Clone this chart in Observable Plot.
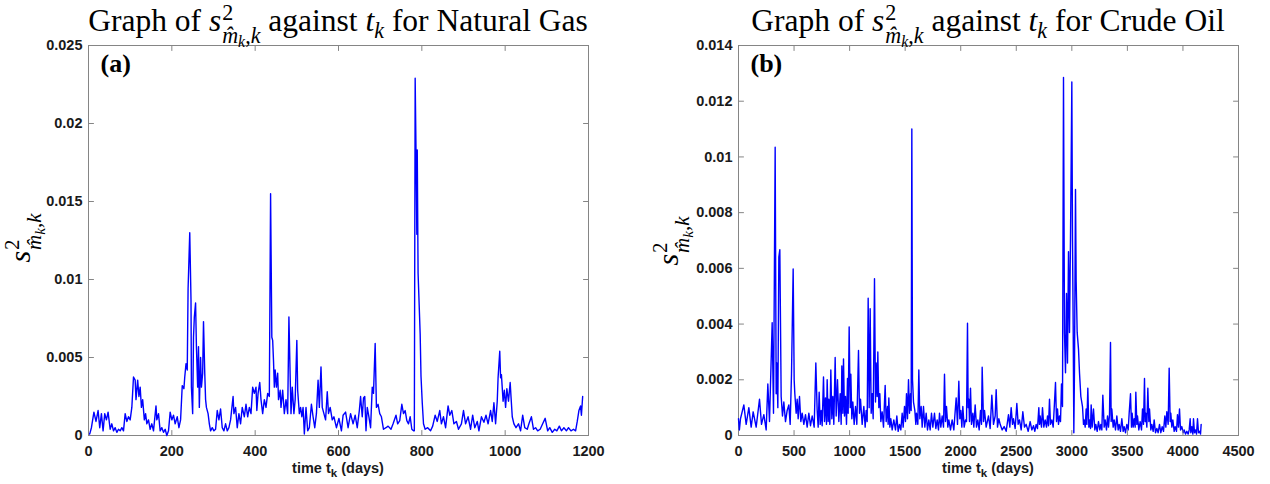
<!DOCTYPE html>
<html>
<head>
<meta charset="utf-8">
<script src="https://cdn.jsdelivr.net/npm/d3@7"></script>
<script src="https://cdn.jsdelivr.net/npm/@observablehq/plot@0.6"></script>
<style>
  body { margin: 0; background: #fff; }
  #fig { position: relative; width: 1270px; height: 484px; overflow: hidden; background: #fff; }
  .plotbox { position: absolute; top: 0; }
  .title { position: absolute; top: 4px; transform: translateX(-50%); font-family: "Liberation Serif", "DejaVu Serif", serif; font-size: 31.5px; line-height: 1; white-space: nowrap; color: #000; }
  .ylab { position: absolute; transform: translate(-50%, -50%) rotate(-90deg); font-family: "Liberation Serif", "DejaVu Serif", serif; font-size: 30px; line-height: 1; white-space: nowrap; color: #000; }
  .xlab { position: absolute; top: 461px; transform: translateX(-50%); font-family: "Liberation Sans", Arial, sans-serif; font-weight: bold; font-size: 14.5px; line-height: 1; white-space: nowrap; color: #1a1a1a; }
  .xlab .sub { font-size: 0.8em; vertical-align: -0.35em; }
  .stk { display: inline-flex; flex-direction: column; font-size: 0.7em; line-height: 0.8; row-gap: 5px; vertical-align: 0.5em; margin-left: 1px; }
  .stk > span { display: block; }
  .sb2 { font-size: 0.72em; vertical-align: -0.25em; }
  .sb1 { font-size: 0.7em; vertical-align: -0.3em; }
</style>
</head>
<body>
<div id="fig"></div>
<script>
// ---------- Data (values in units of 1e-3) ----------
const gasDays = [1,3,7,13,18,23,27,31,35,39,43,47,52,56,60,64,68,72,76,80,84,88,92,96,100,104,108,112,114,118,121,124,127,130,134,137,140,144,148,152,156,162,164,168,172,176,180,184,188,192,196,200,204,208,213,217,221,225,229,231,234,237,239,243,246,247,250,252,254,257,259,262,264,266,269,271,274,276,279,281,283,287,290,293,297,301,305,309,313,317,321,325,329,333,337,341,347,349,353,357,361,365,369,374,378,382,386,390,394,398,402,404,407,411,414,418,422,426,430,434,437,440,442,444,446,448,451,454,456,460,462,466,470,474,478,481,484,486,489,493,496,500,502,506,509,512,515,518,522,526,530,535,539,543,547,551,554,558,561,565,569,573,576,580,585,589,595,601,607,611,617,623,629,635,640,645,650,653,657,660,663,666,669,673,677,681,684,688,691,695,699,703,708,714,719,726,731,738,742,747,752,756,760,764,768,772,776,780,782,784,786,788,789,791,796,798,801,804,808,814,821,826,832,837,843,847,852,857,863,867,872,877,883,888,895,900,905,911,917,922,927,933,937,943,949,954,959,965,969,973,977,981,983,987,989,991,995,998,1001,1004,1008,1012,1014,1017,1021,1026,1032,1037,1042,1047,1053,1057,1063,1068,1073,1078,1084,1090,1096,1102,1107,1113,1119,1124,1130,1135,1141,1147,1152,1158,1164,1169,1173,1177,1181,1183,1186];
const gasVar = [0.1,0.1,0.5,1.5,0.9,1.6,0.5,1.4,0.3,1.4,1.0,1.5,0.4,0.75,0.3,0.5,0.2,0.4,0.3,0.5,0.3,1.4,0.9,1.2,1.0,1.8,3.75,3.55,2.3,3.55,2.5,3.1,1.8,2.3,1.0,1.4,0.75,1.0,0.4,0.75,0.3,1.9,1.0,1.4,0.3,0.5,0.2,0.4,0.0,0.3,1.5,1.0,1.3,0.75,1.2,0.5,1.0,3.2,3.0,3.75,4.6,4.2,9.4,13.0,8.7,3.1,1.4,6.3,7.6,8.5,5.7,3.1,5.7,1.8,5.0,3.1,4.0,7.3,4.0,2.3,1.8,1.4,0.75,0.3,0.5,0.3,0.4,1.6,1.0,1.7,0.5,0.3,0.75,0.3,0.5,1.0,2.5,1.4,1.8,0.5,1.4,0.75,1.8,1.2,2.0,1.2,1.8,1.4,3.1,2.7,3.1,1.6,2.7,3.4,2.3,1.4,2.3,1.8,2.7,2.5,15.5,6.3,6.1,4.8,3.1,4.2,3.1,4.0,2.3,2.9,1.8,2.9,1.4,2.3,1.4,7.6,3.8,1.4,3.1,1.4,2.3,6.1,2.9,1.4,1.8,1.2,1.8,0.1,1.8,0.3,0.5,2.0,1.2,0.5,1.4,3.55,1.8,4.4,1.8,1.4,1.0,2.8,1.4,1.8,1.0,1.2,0.5,1.1,0.3,1.3,1.5,0.5,1.4,0.75,1.3,0.5,1.6,2.5,1.2,2.4,2.5,0.3,1.8,1.2,0.5,3.1,2.7,5.9,1.8,2.0,1.4,1.2,0.4,0.5,0.6,0.4,0.75,1.3,0.75,0.95,2.0,1.4,1.6,0.95,0.75,1.2,0.4,0.3,0.3,22.9,18.3,12.9,18.3,10.4,6.5,3.8,2.1,0.75,0.4,0.5,0.3,0.6,1.3,0.9,1.6,0.75,1.2,0.5,1.9,1.3,1.6,0.75,0.9,0.4,0.75,1.6,0.75,1.2,0.4,1.3,0.5,0.9,0.3,1.2,0.85,1.3,0.75,1.6,0.9,2.1,0.75,2.2,3.7,5.4,3.7,3.9,2.2,2.9,1.8,3.0,2.2,3.4,2.5,1.2,0.75,0.5,0.75,0.3,1.3,0.5,0.4,0.75,1.2,0.4,0.5,0.3,0.4,0.75,1.1,0.3,0.5,0.2,0.4,0.3,0.6,0.3,0.5,0.3,0.5,0.3,0.4,0.3,0.9,1.6,1.9,1.3,2.5];

const oilDays = [0,8,18,48,69,93,114,132,159,189,207,228,249,264,279,303,315,330,339,345,354,363,372,384,396,408,423,438,453,465,477,492,501,507,519,528,537,549,561,573,588,603,618,633,648,663,681,696,708,717,726,735,744,753,765,774,783,792,798,807,813,822,831,840,849,858,870,879,891,903,915,924,930,939,945,954,963,972,981,987,996,1005,1011,1020,1029,1041,1053,1065,1080,1089,1098,1113,1128,1140,1149,1158,1167,1176,1185,1194,1203,1212,1224,1233,1239,1248,1254,1263,1272,1281,1293,1305,1320,1329,1341,1347,1353,1362,1371,1383,1398,1413,1425,1437,1449,1461,1473,1482,1494,1503,1512,1521,1530,1539,1548,1554,1560,1566,1575,1587,1596,1602,1614,1623,1632,1644,1653,1665,1677,1689,1701,1713,1725,1737,1749,1764,1776,1788,1800,1809,1821,1833,1845,1854,1863,1872,1884,1893,1908,1923,1938,1947,1959,1971,1983,1992,2001,2010,2019,2031,2043,2052,2061,2067,2073,2079,2088,2097,2109,2118,2130,2142,2154,2166,2178,2187,2193,2205,2214,2229,2250,2265,2280,2295,2310,2319,2331,2343,2355,2373,2391,2409,2430,2442,2454,2466,2475,2490,2505,2517,2529,2544,2559,2574,2589,2607,2625,2640,2655,2667,2679,2691,2703,2709,2715,2727,2736,2748,2760,2772,2781,2790,2799,2808,2820,2832,2841,2853,2862,2871,2880,2889,2898,2907,2916,2925,2934,2943,2952,2961,2970,2979,2988,2994,3000,3006,3012,3018,3024,3033,3039,3048,3060,3069,3081,3096,3105,3111,3120,3129,3135,3144,3153,3159,3168,3174,3183,3195,3207,3216,3228,3240,3252,3261,3270,3279,3291,3300,3312,3321,3330,3339,3348,3354,3360,3372,3381,3393,3405,3417,3426,3438,3450,3462,3471,3483,3495,3507,3516,3528,3537,3543,3552,3561,3570,3576,3585,3591,3603,3615,3627,3636,3645,3654,3660,3666,3675,3684,3693,3699,3711,3720,3732,3741,3753,3765,3777,3789,3801,3813,3825,3837,3846,3855,3867,3876,3885,3891,3900,3909,3921,3930,3942,3951,3960,3969,3978,3990,4002,4011,4023,4035,4047,4056,4065,4071,4080,4089,4095,4104,4113,4122,4131,4140,4149,4158,4164];
const oilVar = [0.6,0.2,0.6,1.1,0.4,1.0,0.3,0.85,0.3,1.3,0.4,0.75,0.2,1.85,0.5,4.05,0.8,10.35,1.5,2.6,1.0,6.4,6.67,1.4,0.7,1.2,0.5,0.9,1.1,0.4,2.2,5.98,2.0,1.5,0.8,1.3,0.6,1.4,0.5,0.8,0.4,0.75,0.3,0.8,0.35,0.7,0.3,2.6,0.9,0.3,1.55,0.4,0.9,0.35,2.1,0.5,1.35,0.4,2.0,0.5,1.3,0.4,2.35,0.6,1.4,0.4,2.8,0.7,2.0,0.5,1.5,0.4,2.5,0.8,2.75,0.7,1.4,0.4,2.05,0.8,3.9,1.0,2.2,0.6,1.2,0.4,1.04,0.4,3.05,0.8,1.3,0.4,1.04,0.3,0.9,0.5,4.93,1.0,4.55,0.8,1.5,0.6,5.63,1.2,2.6,1.4,3.0,1.0,1.5,0.5,0.85,0.3,1.8,0.5,1.04,0.4,1.35,0.3,0.6,0.2,0.56,0.2,0.7,0.15,0.4,0.2,0.8,0.3,1.04,0.5,1.5,0.6,2.0,0.8,1.5,0.9,11.0,2.0,1.2,0.9,0.4,0.8,0.4,2.35,0.6,1.04,0.3,1.04,0.3,0.8,0.2,0.56,0.2,0.8,0.3,0.8,0.25,0.56,0.2,0.8,0.3,0.7,0.3,2.2,0.5,1.04,0.3,0.56,0.2,0.56,0.2,0.7,1.35,0.4,1.95,0.6,0.9,0.3,1.04,0.3,0.56,0.5,4.03,1.0,1.3,0.5,1.7,0.4,0.8,0.3,1.1,0.3,0.56,0.2,0.9,0.4,2.45,0.5,0.9,0.3,0.7,0.25,1.45,0.4,0.7,1.64,0.3,0.6,0.4,0.2,0.32,0.15,0.75,0.3,1.0,0.4,0.6,0.25,1.15,0.4,0.56,0.2,0.85,0.3,0.4,0.15,0.5,0.2,0.35,0.15,0.4,0.25,1.0,0.4,0.7,0.3,1.0,0.3,0.56,0.3,0.7,0.35,1.3,0.4,0.56,0.3,0.95,1.9,0.5,0.95,0.4,0.7,0.5,1.85,1.04,12.85,3.67,2.25,5.1,2.6,6.6,3.7,7.1,9.79,12.69,7.0,4.0,0.1,2.45,8.83,5.53,3.7,3.1,2.25,1.4,1.04,0.4,0.56,0.3,0.95,0.4,1.7,0.3,0.56,0.25,1.1,0.3,0.95,0.2,0.4,0.15,0.5,0.2,0.4,0.2,1.45,0.3,0.56,0.2,0.7,0.3,0.75,3.34,0.5,0.95,0.3,0.56,0.2,0.7,0.2,0.4,0.15,0.6,0.15,0.32,0.1,0.4,0.2,0.8,1.5,0.3,0.8,0.3,0.6,0.3,1.55,0.4,0.7,0.2,0.5,0.2,0.95,0.4,2.05,0.5,0.8,0.3,1.7,0.5,0.95,0.2,0.4,0.15,0.56,0.1,0.25,0.1,0.4,0.1,0.32,0.15,0.7,0.3,0.85,0.4,2.42,0.5,0.8,0.3,0.56,0.15,0.32,0.15,0.75,0.3,0.95,0.2,0.32,0.1,0.2,0.05,0.15,0.05,0.2,0.6,0.1,0.32,0.05,0.6,0.1,0.2,0.05,0.6,0.1,0.15,0.05,0.4];

const gasXTicks = [0, 200, 400, 600, 800, 1000, 1200];
const gasYTicks = [0, 0.005, 0.01, 0.015, 0.02, 0.025];
const oilXTicks = [0, 500, 1000, 1500, 2000, 2500, 3000, 3500, 4000, 4500];
const oilYTicks = [0, 0.002, 0.004, 0.006, 0.008, 0.01, 0.012, 0.014];
const VALUE_UNIT = 1e-3;

// ---------- Drawing ----------
const frameColor = "#858585";
const tickShape = { draw(context, l) { context.moveTo(0, 0); context.lineTo(0, -l); } };

function makePanel({days, vals, xTicks, yTicks, panelLabel, marginLeft, marginRight}) {
  const data = days.map((d, i) => ({t: d, v: vals[i] * VALUE_UNIT}));
  const xDom = [xTicks[0], xTicks[xTicks.length - 1]];
  const yDom = [yTicks[0], yTicks[yTicks.length - 1]];
  const tk = {shape: tickShape, length: 5, anchor: "start", stroke: frameColor, strokeWidth: 1};
  return Plot.plot({
    width: 635,
    height: 484,
    marginTop: 45,
    marginBottom: 49,
    marginLeft,
    marginRight,
    x: {domain: xDom, label: null},
    y: {domain: yDom, label: null},
    style: {fontFamily: '"Liberation Sans", Arial, sans-serif', fontSize: "14.5px", fontWeight: "bold", color: "#1a1a1a", background: "transparent", overflow: "visible"},
    marks: [
      Plot.frame({stroke: frameColor, strokeWidth: 1}),
      Plot.line(data, {x: "t", y: "v", stroke: "#0000ff", strokeWidth: 1.4}),
      Plot.axisX(xTicks, {anchor: "bottom", tickSize: 0, tickPadding: 10, label: null, tickFormat: d => String(d)}),
      Plot.axisY(yTicks, {anchor: "left", tickSize: 0, tickPadding: 6, label: null, tickFormat: d => String(d)}),
      Plot.vector(xTicks, {x: d => d, frameAnchor: "bottom", rotate: 0, ...tk}),
      Plot.vector(xTicks, {x: d => d, frameAnchor: "top", rotate: 180, ...tk}),
      Plot.vector(yTicks, {y: d => d, frameAnchor: "left", rotate: 90, ...tk}),
      Plot.vector(yTicks, {y: d => d, frameAnchor: "right", rotate: 270, ...tk}),
      Plot.text([panelLabel], {text: d => d, frameAnchor: "top-left", dx: 12, dy: 8, lineAnchor: "top", textAnchor: "start", fontSize: 26, fontWeight: "bold", fontFamily: '"Liberation Serif", serif', fill: "#000"})
    ]
  });
}

const fig = document.getElementById("fig");

function place(el, left) {
  const box = document.createElement("div");
  box.className = "plotbox";
  box.style.left = left + "px";
  box.appendChild(el);
  fig.appendChild(box);
}

place(makePanel({days: gasDays, vals: gasVar, xTicks: gasXTicks, yTicks: gasYTicks, panelLabel: "(a)", marginLeft: 88, marginRight: 47}), 0);
place(makePanel({days: oilDays, vals: oilVar, xTicks: oilXTicks, yTicks: oilYTicks, panelLabel: "(b)", marginLeft: 103, marginRight: 32}), 635);

const sym = '<i>s</i><span class="stk"><span>2</span><span><i>m\u0302</i><span class="sb2"><i>k</i></span>,<i>k</i></span></span>';
function addHTML(cls, html, style) {
  const d = document.createElement("div");
  d.className = cls;
  d.innerHTML = html;
  Object.assign(d.style, style);
  fig.appendChild(d);
}
addHTML("title", 'Graph of ' + sym + ' against <i>t</i><span class="sb1"><i>k</i></span> for Natural Gas', {left: "338px"});
addHTML("title", 'Graph of ' + sym + ' against <i>t</i><span class="sb1"><i>k</i></span> for Crude Oil', {left: "988px"});
addHTML("ylab", sym, {left: "25px", top: "238px"});
addHTML("ylab", sym, {left: "673px", top: "241px"});
addHTML("xlab", 'time t<span class="sub">k</span> (days)', {left: "338px"});
addHTML("xlab", 'time t<span class="sub">k</span> (days)', {left: "988px"});
</script>
</body>
</html>
